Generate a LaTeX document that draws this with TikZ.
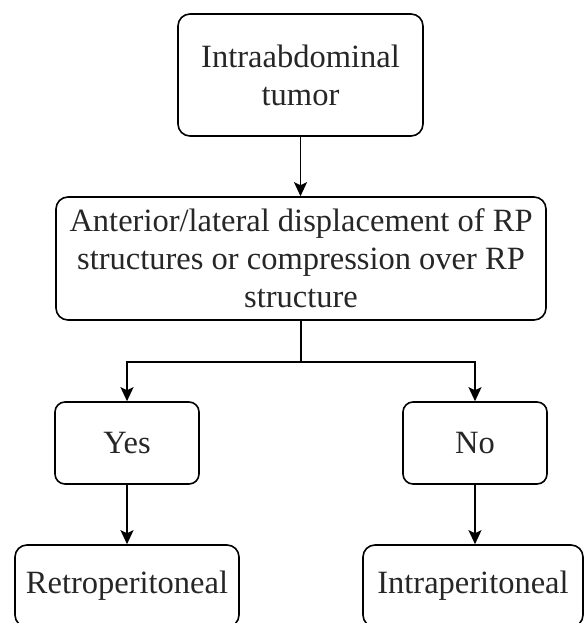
\documentclass[tikz,border=0pt]{standalone}
\usepackage{fontspec}
\setmainfont{Liberation Serif}
\usetikzlibrary{arrows.meta}
\begin{document}
\begin{tikzpicture}[x=1pt,y=1pt,
  box/.style={draw=black, line width=1.6pt, rounded corners=12pt, inner sep=0pt,
    align=center, text=black!85, font=\fontsize{32.5}{38}\selectfont},
  arr/.style={line width=1.6pt, -{Stealth[length=14pt,width=13pt,inset=3pt]}},
  link/.style={line width=1.6pt}]
\useasboundingbox (0,0) rectangle (584,-623);
\node[box, minimum width=245pt, minimum height=122pt] (top) at (300.5,-75) {Intraabdominal\\tumor};
\node[box, minimum width=490pt, minimum height=123pt] (mid) at (301,-258.5)
  {Anterior/lateral displacement of RP\\structures or compression over RP\\structure};
\node[box, minimum width=144pt, minimum height=82pt, rounded corners=10pt] (yes) at (127,-443) {Yes};
\node[box, minimum width=144pt, minimum height=82pt, rounded corners=10pt] (no) at (475,-443) {No};
\node[box, minimum width=224pt, minimum height=82pt] (retro) at (127,-586) {Retroperitoneal};
\node[box, minimum width=220pt, minimum height=82pt] (intra) at (473,-586) {Intraperitoneal};
\coordinate (split) at (301,-362);
\draw[arr] (top.south) -- (top.south |- mid.north);
\draw[link] (mid.south) -- (mid.south |- split);
\draw[arr] (mid.south |- split) -| (yes.north);
\draw[arr] (mid.south |- split) -| (no.north);
\draw[arr] (yes.south) -- (yes.south |- retro.north);
\draw[arr] (no.south) -- (no.south |- intra.north);
\end{tikzpicture}
\end{document}
